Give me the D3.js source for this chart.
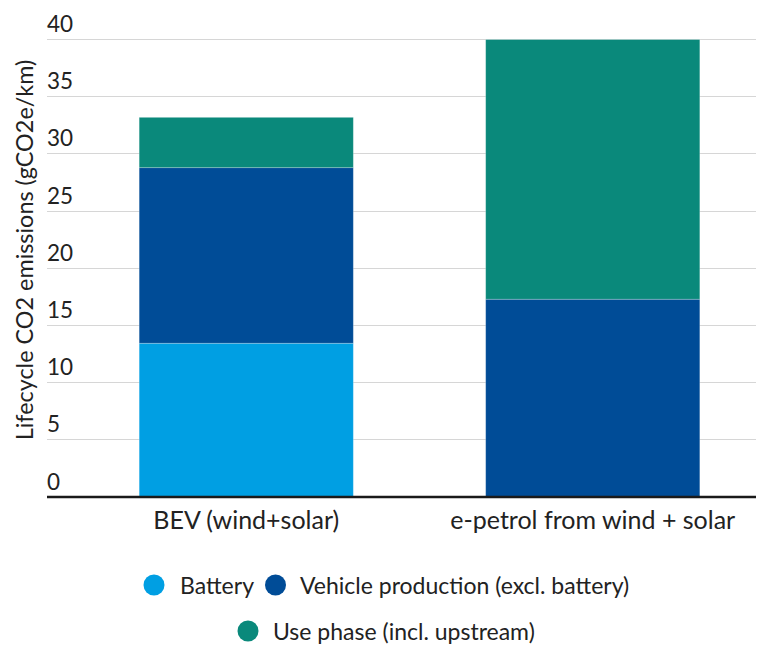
<!DOCTYPE html>
<html>
<head>
<meta charset="utf-8">
<script src="https://cdn.jsdelivr.net/npm/d3@7"></script>
<style>
  html, body { margin: 0; padding: 0; background: #ffffff; }
  svg { display: block; font-family: Lato, "Open Sans", sans-serif; }
</style>
</head>
<body>
<svg id="chart" width="758" height="646"></svg>
<script>
// ---- data ----
const categories = ["BEV (wind+solar)", "e-petrol from wind + solar"];
const seriesNames = ["Battery", "Vehicle production (excl. battery)", "Use phase (incl. upstream)"];
const battery = [13.4, 0];
const vehicleProduction = [15.35, 17.25];
const usePhase = [4.4, 22.7];
const yTicks = [0, 5, 10, 15, 20, 25, 30, 35, 40];
const yTitle = "Lifecycle CO2 emissions (gCO2e/km)";
const colors = ["#009FE3", "#004C97", "#0A897B"];

// ---- build table ----
const table = categories.map((c, i) => ({
  category: c,
  "Battery": battery[i],
  "Vehicle production (excl. battery)": vehicleProduction[i],
  "Use phase (incl. upstream)": usePhase[i]
}));
const stacked = d3.stack().keys(seriesNames)(table);

const svg = d3.select("#chart");
const gridLeft = 47, gridRight = 756;

const x = d3.scaleBand().domain(categories).range([73, 766]).paddingInner(0.382).paddingOuter(0.191);
const y = d3.scaleLinear().domain([0, 40]).range([496.5, 39]);
const color = d3.scaleOrdinal().domain(seriesNames).range(colors);

// gridlines
svg.append("g").selectAll("line").data(yTicks.filter(t => t > 0)).join("line")
  .attr("x1", gridLeft).attr("x2", gridRight)
  .attr("y1", d => Math.round(y(d)) + 0.5).attr("y2", d => Math.round(y(d)) + 0.5)
  .attr("stroke", "#d6d6d6").attr("stroke-width", 1.2);

// tick labels (above gridlines, left aligned)
svg.append("g").selectAll("text").data(yTicks).join("text")
  .attr("x", gridLeft).attr("y", d => y(d) - 7)
  .attr("font-size", 22.5).attr("fill", "#222")
  .text(d => d);

// bars
svg.append("g").selectAll("g").data(stacked).join("g")
  .attr("fill", d => color(d.key))
  .selectAll("rect").data(d => d).join("rect")
  .attr("x", d => x(d.data.category))
  .attr("width", x.bandwidth())
  .attr("y", d => y(d[1]))
  .attr("height", d => Math.max(0, y(d[0]) - y(d[1])))
  .attr("stroke", "#ffffff").attr("stroke-width", d => (d[1] - d[0]) > 0 ? 0.8 : 0)
  .attr("stroke-opacity", 0.3);

// baseline axis
svg.append("line")
  .attr("x1", gridLeft).attr("x2", gridRight)
  .attr("y1", y(0) + 0.5).attr("y2", y(0) + 0.5)
  .attr("stroke", "#1a1a1a").attr("stroke-width", 2.5);

// category labels
svg.append("g").selectAll("text").data(categories).join("text")
  .attr("x", d => x(d) + x.bandwidth() / 2).attr("y", 529)
  .attr("text-anchor", "middle").attr("font-size", 25).attr("fill", "#222")
  .text(d => d);

// y-axis title
svg.append("text")
  .attr("transform", "translate(33,250) rotate(-90)")
  .attr("text-anchor", "middle").attr("font-size", 23.4).attr("fill", "#222")
  .text(yTitle);

// legend
const legendItems = [
  { name: seriesNames[0], cx: 154, cy: 585, tx: 180, ty: 594 },
  { name: seriesNames[1], cx: 275.5, cy: 585, tx: 300, ty: 594 },
  { name: seriesNames[2], cx: 248, cy: 631, tx: 273, ty: 640 }
];
const lg = svg.append("g").selectAll("g").data(legendItems).join("g");
lg.append("circle").attr("cx", d => d.cx).attr("cy", d => d.cy).attr("r", 10.5)
  .attr("fill", d => color(d.name));
lg.append("text").attr("x", d => d.tx).attr("y", d => d.ty)
  .attr("font-size", 23).attr("fill", "#222").text(d => d.name);
</script>
</body>
</html>
